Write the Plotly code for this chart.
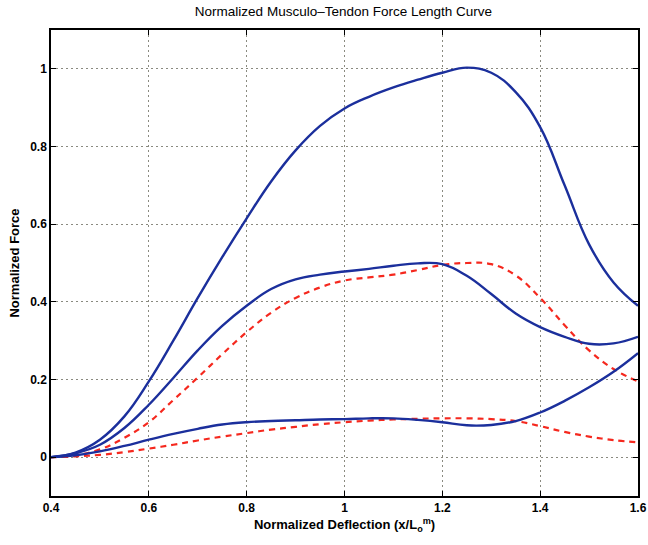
import plotly.graph_objects as go

x = [0.4, 0.45, 0.5, 0.55, 0.6, 0.65, 0.7, 0.75, 0.8, 0.85, 0.9, 0.95, 1.0,
     1.05, 1.1, 1.15, 1.2, 1.25, 1.3, 1.35, 1.4, 1.45, 1.5, 1.55, 1.6]

blue_top = [0, 0.012, 0.045, 0.105, 0.195, 0.3, 0.41, 0.515, 0.615, 0.71, 0.79, 0.853, 0.898,
            0.928, 0.952, 0.972, 0.99, 1.003, 0.99, 0.94, 0.85, 0.70, 0.548, 0.45, 0.39]
blue_mid = [0, 0.01, 0.032, 0.075, 0.135, 0.204, 0.275, 0.338, 0.39, 0.433, 0.458, 0.47, 0.478,
            0.485, 0.493, 0.499, 0.497, 0.467, 0.42, 0.37, 0.335, 0.31, 0.292, 0.293, 0.31]
red_mid = [0, 0.005, 0.02, 0.05, 0.09, 0.147, 0.205, 0.265, 0.322, 0.372, 0.41, 0.437, 0.455,
           0.463, 0.47, 0.482, 0.495, 0.5, 0.497, 0.468, 0.41, 0.34, 0.275, 0.227, 0.195]
blue_low = [0, 0.005, 0.015, 0.029, 0.045, 0.06, 0.073, 0.084, 0.09, 0.093, 0.095, 0.097, 0.098,
            0.1, 0.1, 0.096, 0.09, 0.082, 0.083, 0.093, 0.115, 0.145, 0.18, 0.22, 0.268]
red_low = [0, 0.002, 0.006, 0.013, 0.022, 0.032, 0.043, 0.053, 0.062, 0.071, 0.078, 0.085, 0.09,
           0.094, 0.097, 0.099, 0.1, 0.1, 0.098, 0.093, 0.08, 0.065, 0.053, 0.044, 0.038]

x_ticks = [0.4, 0.6, 0.8, 1.0, 1.2, 1.4, 1.6]
x_tick_text = ["0.4", "0.6", "0.8", "1", "1.2", "1.4", "1.6"]
y_ticks = [0, 0.2, 0.4, 0.6, 0.8, 1.0]
y_tick_text = ["0", "0.2", "0.4", "0.6", "0.8", "1"]

BLUE = "#1b2f9c"
RED = "#f5281e"
FONT = "Liberation Sans, Arial"

fig = go.Figure()
for ys in (red_mid, red_low):
    fig.add_trace(go.Scatter(x=x, y=ys, mode="lines",
                             line=dict(color=RED, width=2.2, dash="6px,5px",
                                       shape="spline", smoothing=1.2)))
for ys in (blue_top, blue_mid, blue_low):
    fig.add_trace(go.Scatter(x=x, y=ys, mode="lines",
                             line=dict(color=BLUE, width=2.4, shape="spline", smoothing=1.2)))

axis_common = dict(showline=True, linecolor="black", linewidth=1.5, mirror="ticks",
                   ticks="inside", ticklen=5, tickcolor="black",
                   showgrid=True, gridcolor="#8a8a80", griddash="1.5px,3.5px", gridwidth=1.2,
                   zeroline=False, automargin=False,
                   tickfont=dict(family=FONT, size=12, color="black", weight="bold"))

fig.update_layout(
    width=648, height=545,
    margin=dict(l=51, r=10, t=30, b=49),
    paper_bgcolor="white", plot_bgcolor="white",
    showlegend=False,
    title=dict(text="Normalized Musculo\u2013Tendon Force Length Curve",
               x=0.53, xanchor="center", y=0.988, yanchor="top",
               font=dict(family=FONT, size=13.5, color="black")),
    xaxis=dict(range=[0.4, 1.6], tickvals=x_ticks, ticktext=x_tick_text,
               title=dict(text="<b>Normalized Deflection (x/L<sub>o</sub><sup>m</sup>)</b>",
                          standoff=6, font=dict(family=FONT, size=13, color="black")),
               **axis_common),
    yaxis=dict(range=[-0.1, 1.1], tickvals=y_ticks, ticktext=y_tick_text,
               title=dict(text="<b>Normalized Force</b>", standoff=8,
                          font=dict(family=FONT, size=13, color="black")),
               **axis_common),
)

fig.write_html("out.html")
